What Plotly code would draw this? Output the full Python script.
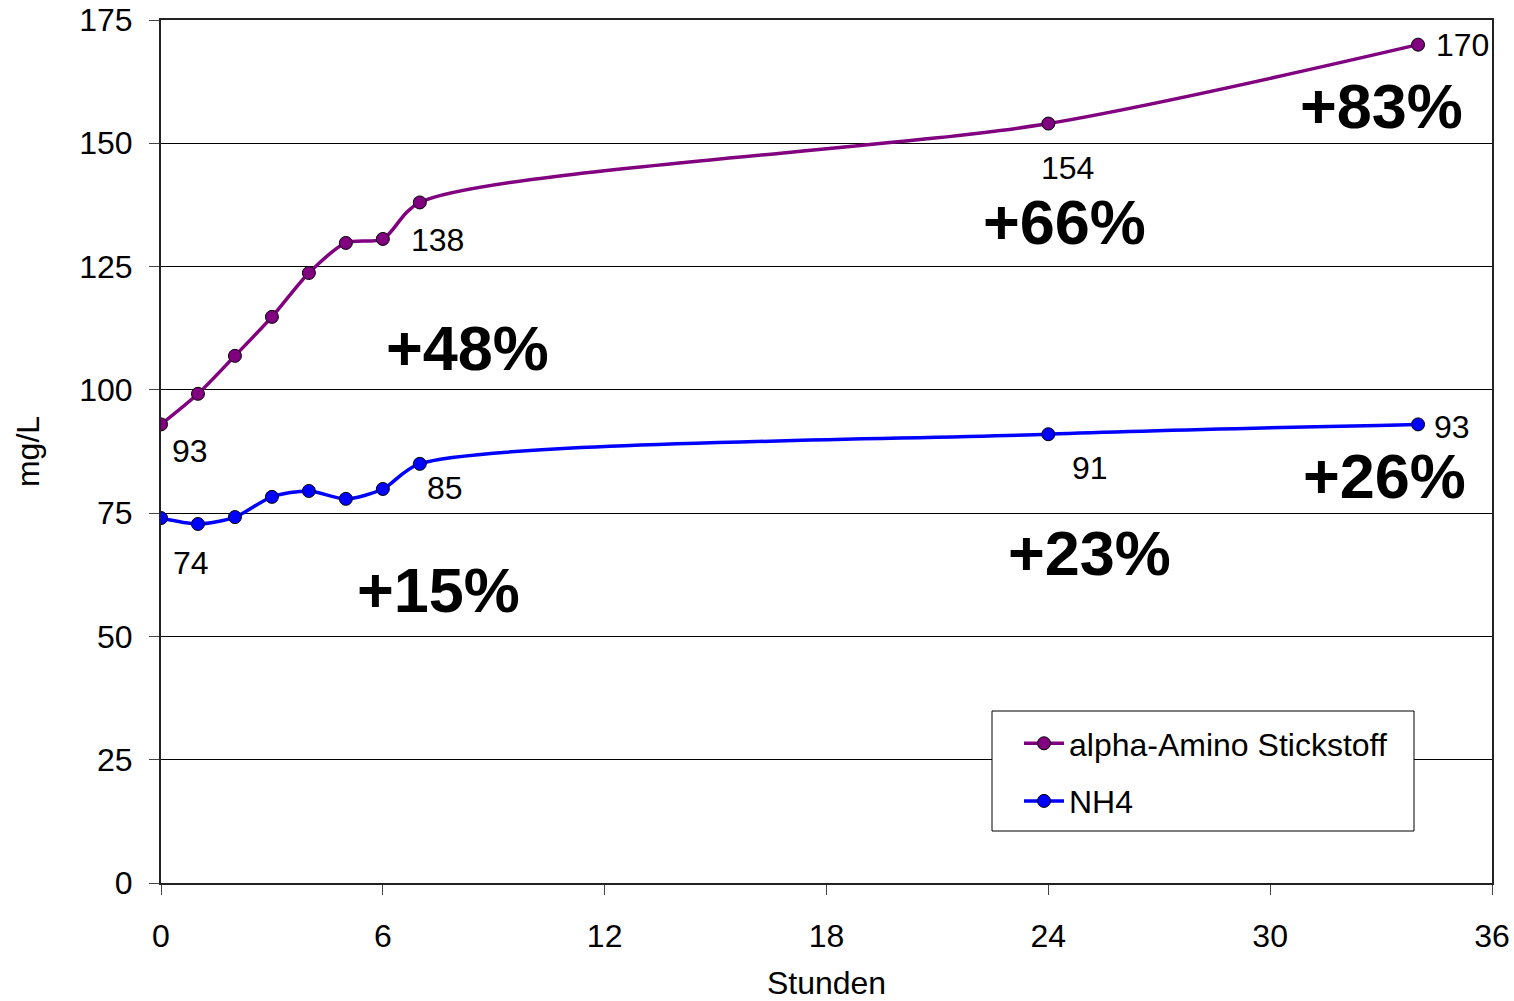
import plotly.graph_objects as go

# Sampling times (hours)
hours = [0, 1, 2, 3, 4, 5, 6, 7, 24, 34]

# Concentrations in mg/L
alpha_amino_n = [93, 99.2, 106.9, 114.8, 123.7, 129.8, 130.6, 138, 154, 170]
nh4 = [74, 72.8, 74.2, 78.3, 79.5, 77.9, 79.9, 85, 91, 93]

series_names = ["alpha-Amino Stickstoff", "NH4"]
series_colors = ["#800080", "#0000FF"]

# Indices of points that carry a value label
labelled_idx = [0, 7, 8, 9]

# Percentage increase relative to the starting value, with label anchor positions
pct_labels_amino = [(7, 8.3, 108.5), (8, 24.45, 134.0), (9, 33.0, 157.6)]
pct_labels_nh4 = [(7, 7.5, 59.4), (8, 25.1, 66.9), (9, 33.1, 82.5)]

x_ticks = [0, 6, 12, 18, 24, 30, 36]
y_ticks = [0, 25, 50, 75, 100, 125, 150, 175]

FONT = "Arial, Liberation Sans, sans-serif"
L, R, T, B = 161, 1492, 20, 883
W, H = 1514, 1001

fig = go.Figure()
for i, (name, vals, col) in enumerate(zip(series_names, [alpha_amino_n, nh4], series_colors)):
    fig.add_trace(go.Scatter(
        x=hours, y=vals, name=name, mode="lines+markers",
        line=dict(color=col, width=3.5, shape="spline", smoothing=0.8),
        marker=dict(size=13, color=col, line=dict(color="black", width=1)),
        legendgroup=f"g{i}",
    ))

# Value labels next to selected points (pixel offsets from the point)
label_offsets_amino = {0: (29, 27), 7: (18, 38), 8: (19, 44), 9: (44, 0)}
label_offsets_nh4 = {0: (30, 45), 7: (25, 24), 8: (42, 34), 9: (34, 3)}
for vals, offs in [(alpha_amino_n, label_offsets_amino), (nh4, label_offsets_nh4)]:
    for idx in labelled_idx:
        dx, dy = offs[idx]
        fig.add_annotation(
            x=hours[idx], y=vals[idx], text=f"{vals[idx]:.0f}",
            showarrow=False, xshift=dx, yshift=-dy,
            font=dict(family=FONT, size=32, color="black"),
        )

# Bold percentage increase labels
for vals, labels in [(alpha_amino_n, pct_labels_amino), (nh4, pct_labels_nh4)]:
    for idx, lx, ly in labels:
        pct = round((vals[idx] / vals[0] - 1) * 100)
        fig.add_annotation(
            x=lx, y=ly, text=f"<b>+{pct}%</b>", showarrow=False,
            font=dict(family=FONT, size=63, color="black"),
        )

# Legend frame
fig.add_shape(
    type="rect", xref="paper", yref="paper",
    x0=(992 - L) / (R - L), x1=(1414 - L) / (R - L),
    y0=(B - 831) / (B - T), y1=(B - 711) / (B - T),
    line=dict(color="black", width=1), fillcolor="white", layer="above",
)

fig.update_layout(
    width=W, height=H,
    margin=dict(l=L, r=W - R, t=T, b=H - B, autoexpand=False),
    paper_bgcolor="white", plot_bgcolor="white",
    font=dict(family=FONT, size=32, color="black"),
    showlegend=True,
    legend=dict(
        x=(1019 - L) / (R - L), y=(B - 716) / (B - T), xanchor="left", yanchor="top",
        bgcolor="rgba(0,0,0,0)", borderwidth=0,
        font=dict(family=FONT, size=32, color="black"),
        tracegroupgap=13, itemwidth=40,
    ),
    xaxis=dict(
        range=[0, 36], tickvals=x_ticks, ticktext=[str(t) for t in x_ticks],
        showgrid=False, zeroline=False, automargin=False,
        showline=True, linecolor="#222", linewidth=2, mirror=True,
        ticks="outside", ticklen=10, tickcolor="#444", ticklabelstandoff=14,
        tickfont=dict(family=FONT, size=32),
        title=dict(text="Stunden", font=dict(family=FONT, size=32), standoff=25),
    ),
    yaxis=dict(
        range=[0, 175], tickvals=y_ticks, ticktext=[str(t) for t in y_ticks],
        showgrid=True, gridcolor="black", gridwidth=1, zeroline=False, automargin=False,
        showline=True, linecolor="#222", linewidth=2, mirror=True,
        ticks="outside", ticklen=10, tickcolor="#444", ticklabelstandoff=10,
        tickfont=dict(family=FONT, size=32),
        title=dict(text="mg/L", font=dict(family=FONT, size=32), standoff=30),
    ),
)

fig.write_html("out.html")
